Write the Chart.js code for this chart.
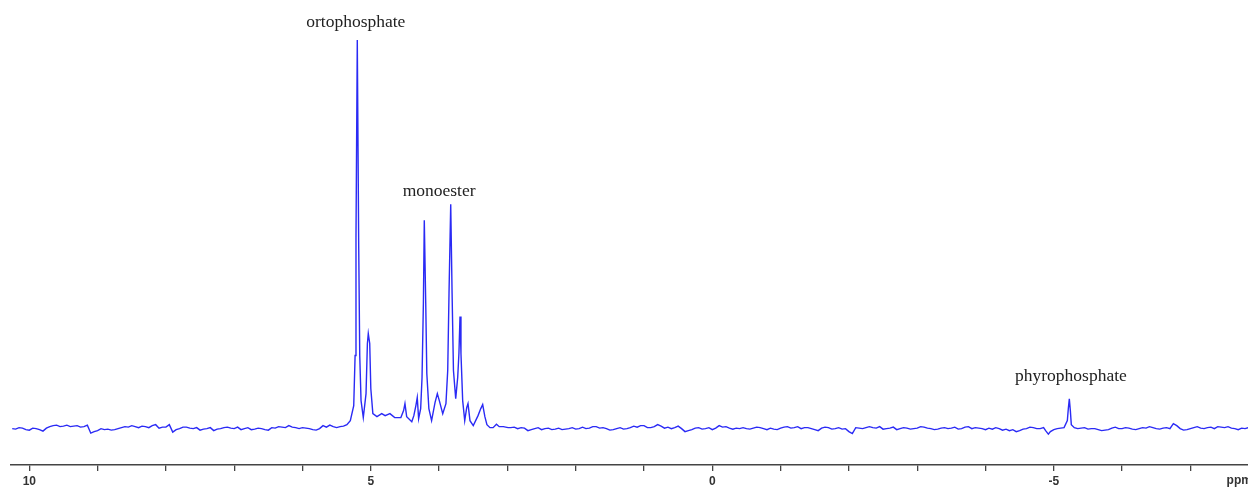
<!DOCTYPE html>
<html>
<head>
<meta charset="utf-8">
<script src="https://cdn.jsdelivr.net/npm/chart.js@4"></script>
<style>
  body { margin: 0; background: #fff; }
  canvas { display: block; }
</style>
</head>
<body>
<canvas id="spectrum" width="1248" height="487"></canvas>
<script>
// 31P NMR spectrum, chemical shift (ppm) vs. intensity (a.u.)

// baseline left of the signals
const leftPpm = [10.25, 10.2, 10.15, 10.1, 10.05, 10.0, 9.95, 9.9, 9.85, 9.8, 9.75, 9.7, 9.65, 9.6, 9.55, 9.5, 9.45, 9.4, 9.35, 9.3,
    9.25, 9.2, 9.15, 9.1, 9.05, 9.0, 8.95, 8.9, 8.85, 8.8, 8.75, 8.7, 8.65, 8.6, 8.55, 8.5, 8.45, 8.4, 8.35, 8.3,
    8.25, 8.2, 8.15, 8.1, 8.05, 8.0, 7.95, 7.9, 7.85, 7.8, 7.75, 7.7, 7.65, 7.6, 7.55, 7.5, 7.45, 7.4, 7.35, 7.3,
    7.25, 7.2, 7.15, 7.1, 7.05, 7.0, 6.95, 6.9, 6.85, 6.8, 6.75, 6.7, 6.65, 6.6, 6.55, 6.5, 6.45, 6.4, 6.35, 6.3,
    6.25, 6.2, 6.15, 6.1, 6.05, 6.0, 5.95, 5.9, 5.85, 5.8, 5.75, 5.7, 5.65, 5.6, 5.55, 5.5, 5.45, 5.4, 5.35];
const leftInt = [0, -0.5, 1, 0.5, -1, -1.5, 0.5, 0, -1, -2.5, 0.5, 2, 3, 3.5, 2, 2.5, 3.5, 2, 2.5, 3,
    1.5, 2, 3.5, -4.5, -3, -2, 0, -1, -0.5, -1.5, -1, 0, 1, 2, 1.5, 3, 2, 1, 2.5, 2,
    1, 3, 4, 0.5, 1.5, 1.5, 4, -3.5, -1, 0, 1.5, 1.5, 0.5, 0, 1, -1.5, -0.5, 0, 1, -2,
    -0.5, 0, 1, 1.5, 0.5, 0, 1.5, -1, 0, 1, -1, -0.5, 0.5, 0, -1, -1.5, 1, 0.5, 2, 1.5,
    1, 3, 1.5, 1, 0, 1, 0.5, 0, -1, -1.5, 0, 3, 1.5, 3.5, 2, 1, 2, 2.5, 4];

// orthophosphate + monoester region
const signalPpm = [5.30, 5.25, 5.23, 5.217, 5.198, 5.177, 5.162, 5.143, 5.11, 5.07, 5.05, 5.037, 5.016, 5.0, 4.97,
    4.91, 4.84, 4.79, 4.72, 4.65, 4.56, 4.52, 4.50, 4.475, 4.40, 4.37, 4.34, 4.32, 4.30, 4.27,
    4.25, 4.23, 4.217, 4.196, 4.18, 4.15, 4.11, 4.06, 4.026, 3.997, 3.947, 3.90, 3.874, 3.855, 3.83,
    3.81, 3.79, 3.757, 3.728, 3.71, 3.694, 3.68, 3.655, 3.625, 3.596, 3.577, 3.548, 3.50, 3.43, 3.39,
    3.362, 3.33, 3.30, 3.255, 3.21, 3.16, 3.12, 3.06, 2.99];
const signalInt = [8, 23, 73, 191, 388, 181, 73, 28, 11, 35, 85, 95, 85, 40, 15,
    12, 15, 13, 15, 11, 11, 18, 25, 12, 7, 13, 23, 31, 10, 20,
    51, 126, 208, 126, 55, 20, 8, 26, 35, 28, 15, 25, 58, 135, 224,
    135, 58, 30, 51, 75, 112, 75, 28, 8, 21, 25, 8, 3, 13, 20,
    24, 12, 4, 1, 1, 4.5, 2, 2, 1];

// baseline between the signals and the pyrophosphate
const midPpm = [2.95, 2.9, 2.85, 2.8, 2.75, 2.7, 2.65, 2.6, 2.55, 2.5, 2.45, 2.4, 2.35, 2.3, 2.25, 2.2, 2.15, 2.1, 2.05, 2.0,
    1.95, 1.9, 1.85, 1.8, 1.75, 1.7, 1.65, 1.6, 1.55, 1.5, 1.45, 1.4, 1.35, 1.3, 1.25, 1.2, 1.15, 1.1, 1.05, 1.0,
    0.95, 0.9, 0.85, 0.8, 0.75, 0.7, 0.65, 0.6, 0.55, 0.5, 0.45, 0.4, 0.35, 0.3, 0.25, 0.2, 0.15, 0.1, 0.05, 0.0,
    -0.05, -0.1, -0.15, -0.2, -0.25, -0.3, -0.35, -0.4, -0.45, -0.5, -0.55, -0.6, -0.65, -0.7, -0.75, -0.8, -0.85, -0.9, -0.95, -1.0,
    -1.05, -1.1, -1.15, -1.2, -1.25, -1.3, -1.35, -1.4, -1.45, -1.5, -1.55, -1.6, -1.65, -1.7, -1.75, -1.8, -1.85, -1.9, -1.95, -2.0,
    -2.05, -2.1, -2.15, -2.2, -2.25, -2.3, -2.35, -2.4, -2.45, -2.5, -2.55, -2.6, -2.65, -2.7, -2.75, -2.8, -2.85, -2.9, -2.95, -3.0,
    -3.05, -3.1, -3.15, -3.2, -3.25, -3.3, -3.35, -3.4, -3.45, -3.5, -3.55, -3.6, -3.65, -3.7, -3.75, -3.8, -3.85, -3.9, -3.95, -4.0,
    -4.05, -4.1, -4.15, -4.2, -4.25, -4.3, -4.35, -4.4, -4.45, -4.5, -4.55, -4.6, -4.65, -4.7, -4.75, -4.8, -4.85, -4.88, -4.92, -4.95,
    -5.0, -5.05, -5.1, -5.15];
const midInt = [1, 1.5, 0, 1, 0.5, -2, -1, 0, 1, -1, 0, 0.5, -1, -0.5, 0.5, -1, -0.5, 0, 1, -0.5,
    0, 1.5, 0, 0.5, 2, 2, 0.5, 1, 0, -1.5, -1, 0, 1, -0.5, 0, 1, 2.5, 1.5, 3, 3,
    1, 1, 2, 4, 2.5, 0.5, 1.5, 0, 1, 2.5, 0, -3, -2, -1, 0.5, 1, -0.5, 0, 1, -1,
    0.5, 3, 1.5, 2, 0.5, -0.5, 0.5, 0, 1, 0, -0.5, 0.5, 1.5, 1, 0, -1, 0.5, -0.5, -1, 0.5,
    1.5, 2, 0.5, 1, 2, 0, 1, 1, 0, -1, -2, 0.5, 1.5, 1, -0.5, 0, 1, -0.5, 0, -3,
    -5, 1, 0.5, 0, 1, 2, 1, 0.5, 2, -0.5, 0, 0.5, 1.5, -1, 0, 1, 0.5, -0.5, 0, 0.5,
    2, 1.5, 0.5, 0, -1, -0.5, 0.5, 1, 0, 0.5, 1.5, -0.5, 0, 1.5, 2, 0, 1, 0.5, 0, -1,
    0.5, -0.5, 1, 0, -1.5, -0.5, -2, -1, -3, -2, -0.5, 0, 1.5, 1, 0, 0, 1, -2, -5.5, -3,
    -1, 0, 0.5, 1];

// pyrophosphate and baseline to the right edge
const rightPpm = [-5.198, -5.212, -5.227, -5.242, -5.256, -5.3, -5.35, -5.4, -5.45, -5.5, -5.55, -5.6, -5.65, -5.7, -5.75,
    -5.8, -5.85, -5.9, -5.95, -6.0, -6.05, -6.1, -6.15, -6.2, -6.25, -6.3, -6.35, -6.4, -6.45, -6.5,
    -6.55, -6.6, -6.65, -6.7, -6.75, -6.8, -6.85, -6.9, -6.95, -7.0, -7.05, -7.1, -7.15, -7.2, -7.25,
    -7.3, -7.35, -7.4, -7.45, -7.5, -7.55, -7.6, -7.65, -7.7, -7.75, -7.8, -7.85];
const rightInt = [8, 19.7, 29.7, 18, 4, 1, 0, 0.5, 1, -0.5, 0, 0, -1, -2, -1.5,
    -1, 0.5, 1.5, 0, 0, 1, 0.5, -0.5, -1, 0, 1, 0.5, 2, 1, 0,
    -0.5, 0.5, 1, 0, 5, 3, 0, -1.5, -1, 0, 1, 2, 0.5, 0, 1,
    1.5, 0, 2, 1.5, 1, 2, 0.5, 0, -1, 0.5, 0, 1];

const tickValues = [10, 9, 8, 7, 6, 5, 4, 3, 2, 1, 0, -1, -2, -3, -4, -5, -6, -7];
const tickLabels = { '10': '10', '5': '5', '0': '0', '-5': '-5' };

const labelText = ['ortophosphate', 'monoester', 'phyrophosphate'];
const labelPpm = [5.22, 4.0, -5.25];
const labelHeight = [401, 232, 48];

const ppm = [...leftPpm, ...signalPpm, ...midPpm, ...rightPpm];
const intensity = [...leftInt, ...signalInt, ...midInt, ...rightInt];
const points = ppm.map((v, i) => ({ x: v, y: intensity[i] }));

const peakLabels = {
    id: 'peakLabels',
    afterDatasetsDraw(chart) {
        const { ctx, scales: { x, y } } = chart;
        ctx.save();
        ctx.font = '17.5px "Liberation Serif", "Times New Roman", serif';
        ctx.fillStyle = '#222';
        ctx.textAlign = 'center';
        ctx.textBaseline = 'alphabetic';
        labelText.forEach((t, i) => {
            ctx.fillText(t, x.getPixelForValue(labelPpm[i]), y.getPixelForValue(labelHeight[i]));
        });
        // axis unit at the right end
        ctx.font = 'bold 12px "Liberation Sans", Arial, sans-serif';
        ctx.fillStyle = '#333';
        ctx.textAlign = 'left';
        ctx.textBaseline = 'middle';
        ctx.fillText('ppm', x.getPixelForValue(-7.53), 481);
        ctx.restore();
    }
};

new Chart(document.getElementById('spectrum'), {
    type: 'line',
    data: {
        datasets: [{
            data: points,
            borderColor: '#2a2af5',
            borderWidth: 1.4,
            pointRadius: 0,
            tension: 0,
            fill: false
        }]
    },
    options: {
        responsive: false,
        animation: false,
        layout: { padding: { left: 11, right: 0, top: 0, bottom: 0 } },
        plugins: { legend: { display: false }, tooltip: { enabled: false } },
        scales: {
            x: {
                type: 'linear',
                reverse: true,
                min: -7.843,
                max: 10.268,
                afterBuildTicks: (scale) => { scale.ticks = tickValues.map(v => ({ value: v })); },
                afterFit: (scale) => { scale.height = 22; },
                grid: { drawOnChartArea: false, drawTicks: true, tickLength: 6, color: '#444', lineWidth: 1.3 },
                border: { display: true, color: '#444', width: 1.5 },
                ticks: {
                    autoSkip: false,
                    maxRotation: 0,
                    padding: 3,
                    color: '#333',
                    font: { family: '"Liberation Sans", Arial, sans-serif', size: 12, weight: 'bold' },
                    callback: (v) => tickLabels[String(v)] || ''
                }
            },
            y: { display: false, min: -36.3, max: 428 }
        }
    },
    plugins: [peakLabels]
});
</script>
</body>
</html>
